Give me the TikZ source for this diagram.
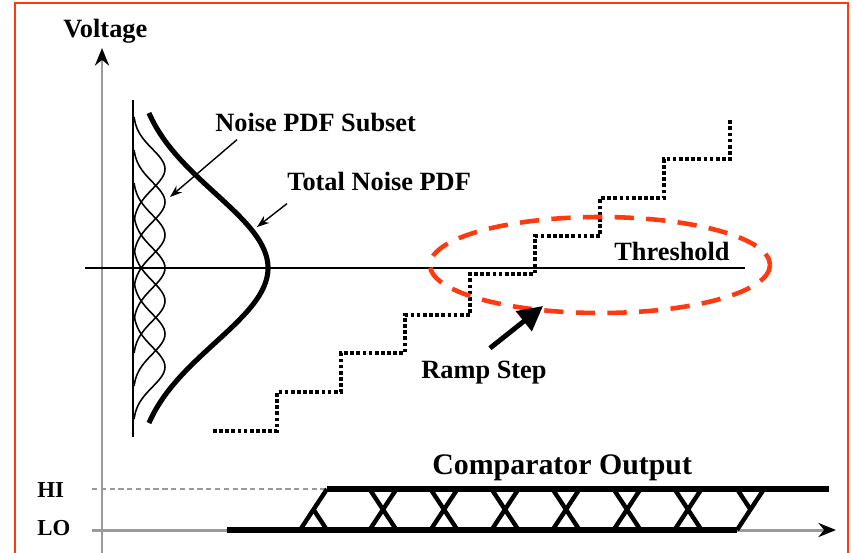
\documentclass[tikz,border=0pt]{standalone}
\usepackage{fontspec}
\setmainfont{Liberation Serif}
\usetikzlibrary{arrows.meta,positioning,calc}

\definecolor{framered}{HTML}{FF3A10}
\definecolor{axisgray}{HTML}{9A9A9A}

\begin{document}
\begin{tikzpicture}[
  x=0.02cm, y=-0.02cm,
  >=Stealth,
  lab/.style={font=\fontsize{15}{17}\selectfont\bfseries,inner sep=0pt,anchor=base west},
  smalllab/.style={font=\fontsize{13}{15}\selectfont\bfseries,inner sep=0pt,anchor=base west},
  axis/.style={axisgray,line width=1.7pt,-{Stealth[black,length=10pt,width=8pt]}},
  pdf/.style={line width=2.9pt},
  subpdf/.style={line width=0.9pt},
  pointer/.style={line width=0.8pt,-{Stealth[length=7pt,width=5pt]}},
  rampptr/.style={line width=2.8pt,-{Triangle[length=14pt,width=14pt]}},
  ramp/.style={line width=2.3pt,dash pattern=on 2.1pt off 1.4pt},
  level/.style={line width=3.4pt},
  edge/.style={line width=2.5pt},
  region/.style={framered,line width=2.6pt,dash pattern=on 11pt off 7pt}
]
  \useasboundingbox (0,0) rectangle (853,552);
  \draw[framered,line width=1.4pt] (15,560) -- (15,3) -- (848,3) -- (848,560);

  % axes
  \coordinate (vbase) at (102,560);
  \coordinate (vtop) at (102,48);
  \coordinate (tstart) at (92,530);
  \coordinate (tend) at (836,530);
  \draw[axis] (vbase) -- (vtop);
  \draw[axis] (tstart) -- (tend);

  \node[lab] (voltage) at (63,37) {Voltage};

  % threshold and pdf base
  \coordinate (thl) at (85,268);
  \coordinate (thr) at (745,268);
  \coordinate (pdftop) at (133,100);
  \coordinate (pdfbot) at (133,437);
  \draw[line width=1.6pt] (thl) -- (thr);
  \draw[line width=1.5pt] (pdftop) -- (pdfbot);

  % noise pdfs
  \foreach \c in {169,202,...,367}
    \draw[subpdf] plot[domain=-52:52,samples=41,smooth]
      ({133+32*exp(-(\x/20)^2/2)},{\c+\x});
  \draw[pdf] plot[domain=113:423,samples=80,smooth]
    ({133+135*exp(-((\x-268)/75)^2/2)},\x);

  \node[lab] (subset) at (215,131) {Noise PDF Subset};
  \node[lab] (total) at (287,190) {Total Noise PDF};
  \coordinate (subtip) at (170,197);
  \coordinate (totaltip) at (257,227);
  \draw[pointer] (subset.south west) ++(22,8) -- (subtip);
  \draw[pointer] (total.south west) ++(0,13) -- (totaltip);

  % ramp
  \draw[ramp] (213,431) -- (277,431) -- (277,392) -- (341,392) -- (341,353)
    -- (405,353) -- (405,315) -- (470,315) -- (470,274) -- (535,274)
    -- (535,236) -- (600,236) -- (600,198) -- (664,198) -- (664,159)
    -- (730,159) -- (730,119);

  \node[lab] (thresh) at (614,260) {Threshold};
  \draw[region] (600,265) ellipse [x radius=170,y radius=48];

  \node[lab] (rampstep) at (421,378) {Ramp Step};
  \coordinate (ramptip) at (543,306);
  \draw[rampptr] (rampstep.north) ++(6,-12) -- (ramptip);

  % comparator output
  \node[font=\fontsize{17}{19}\selectfont\bfseries,inner sep=0pt,anchor=base west]
    (compout) at (432,474) {Comparator Output};
  \node[smalllab] (hi) at (37,497) {HI};
  \node[smalllab] (lo) at (37,535) {LO};

  \coordinate (hidash) at (92,489);
  \coordinate (hileft) at (327,489);
  \coordinate (hiright) at (829,489);
  \coordinate (loleft) at (227,530);
  \coordinate (loright) at (737,530);
  \draw[axisgray,line width=0.7pt,dash pattern=on 3pt off 2pt] (hidash) -- (hileft);
  \draw[level] (hileft) -- (hiright);
  \draw[level] (loleft) -- (loright);

  \draw[edge] (300,530) -- (hileft);
  \draw[edge] (313.5,509.5) -- (327,530);
  \foreach \xc in {383,444,...,688}
    \draw[edge] ({\xc-13.5},489) -- ({\xc+13.5},530)
                ({\xc-13.5},530) -- ({\xc+13.5},489);
  \draw[edge] (loright) -- (764,489);
  \draw[edge] (737,489) -- (750.5,509.5);
\end{tikzpicture}
\end{document}
